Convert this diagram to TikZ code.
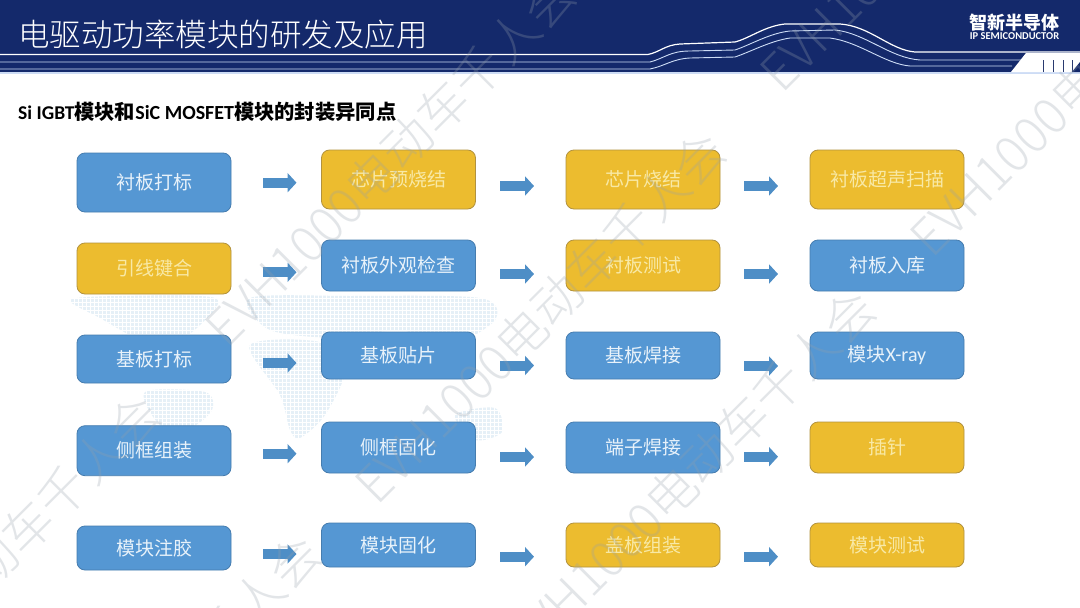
\documentclass[tikz,border=0pt]{standalone}
\usepackage{fontspec}
\setmainfont{Noto Sans CJK SC}
\newfontfamily\latinf{Carlito}
\newfontfamily\lightf{Noto Sans CJK SC Light}
\usetikzlibrary{arrows.meta}
\definecolor{navy}{RGB}{20,41,107}
\definecolor{boxblue}{RGB}{85,151,211}
\definecolor{edgeblue}{RGB}{70,125,175}
\definecolor{boxgold}{RGB}{236,188,47}
\definecolor{edgegold}{RGB}{178,146,62}
\definecolor{txtblue}{RGB}{232,242,250}
\definecolor{txtgold}{RGB}{248,233,166}
\definecolor{arrowblue}{RGB}{78,142,198}
\definecolor{mapblue}{RGB}{230,240,247}
\definecolor{wmgray}{RGB}{150,160,170}
\definecolor{hline}{RGB}{205,220,245}
\tikzset{
  x=1pt,y=-1pt,
  procbox/.style={rounded corners=8pt,minimum width=154pt,inner sep=0pt,outer sep=0pt,font=\fontsize{19}{19}\selectfont,line width=.8pt},
  bluebox/.style={procbox,fill=boxblue,draw=edgeblue,text=txtblue},
  goldbox/.style={procbox,fill=boxgold,draw=edgegold,text=txtgold},
  flow/.style={draw=arrowblue,line width=10pt,-{Triangle[length=9pt,width=19pt,fill=arrowblue]}},
  wm/.style={rotate=45,text=wmgray,text opacity=.27,font=\lightf\fontsize{50}{50}\selectfont,inner sep=0pt},
  hl/.style={draw=hline,line width=.9pt},
  mapshape/.style={fill=mapblue,draw=none},
}
\newcommand{\flow}[6]{\draw[flow] ([shift={(#3,#5)}]#1.east) -- ([shift={(#4,#6)}]#2.west);}
\begin{document}
\begin{tikzpicture}
\useasboundingbox (0,0) rectangle (1080,608);
\fill[white] (0,0) rectangle (1080,608);
% world map
\fill[mapshape] plot[smooth cycle] coordinates {(70,300) (120,296) (215,298) (200,325) (170,345) (140,340) (100,318)};
\fill[mapshape] plot[smooth cycle] coordinates {(145,392) (205,392) (212,410) (190,428) (160,425)};
\fill[mapshape] plot[smooth cycle] coordinates {(250,345) (320,342) (345,370) (325,415) (300,438) (290,430) (280,395)};
\fill[mapshape] plot[smooth cycle] coordinates {(250,298) (350,296) (480,298) (495,320) (450,345) (400,330) (340,338) (270,330)};
\fill[mapshape] plot[smooth cycle] coordinates {(455,415) (495,408) (502,432) (475,440)};
\foreach \gx in {66,70,...,510} \draw[white,line width=.5pt] (\gx,290) -- (\gx,445);
\foreach \gy in {290,294,...,445} \draw[white,line width=.5pt] (66,\gy) -- (510,\gy);
% header
\fill[navy] (0,0) rectangle (1080,73);
\draw[hline,line width=1.2pt] (0,73) -- (1080,73);
\draw[hl,line width=1.2pt,white] (0,54.5) -- (648,54.5) .. controls (660,52) and (665,45) .. (680,44) -- (735,42) .. controls (750,38) and (765,26) .. (785,24) -- (840,24) .. controls (870,26) and (890,50) .. (915,52) -- (1080,52);
\draw[hl] (0,62) -- (650,62) .. controls (665,58) and (670,51) .. (690,51) -- (735,50) .. controls (750,45) and (770,33) .. (790,31) -- (835,30) .. controls (865,33) and (890,58) .. (920,60) -- (1022,60);
\draw[hl] (0,69) -- (650,69) .. controls (665,66) and (672,59) .. (690,58) -- (735,57) .. controls (750,52) and (770,41) .. (790,38) -- (830,38) .. controls (860,42) and (885,64) .. (910,66) -- (1012,66);
\fill[white] (1026,53) -- (1080,53) -- (1080,72) -- (1011,72) -- cycle;
\foreach \tx in {1043,1053,1063,1072} \draw[navy!80!gray,line width=.8pt] (\tx,60) -- (\tx,72);
\fill[navy] (1080,62) -- (1072,72) -- (1080,72) -- cycle;
\node[anchor=west,inner sep=0pt,text=white,font=\lightf\fontsize{31.5}{32}\selectfont] (title) at (18,35) {电驱动功率模块的研发及应用};
\node[inner sep=0pt,text=white,font=\fontsize{18}{18}\selectfont\bfseries] (logo) at (1014.5,23) {智新半导体};
\node[inner sep=0pt,text=white,font=\latinf\fontsize{10.5}{10.5}\selectfont\bfseries] (logosub) at (1014.5,36) {IP SEMICONDUCTOR};
\node[anchor=west,inner sep=0pt,text=black,font=\fontsize{20.3}{20}\selectfont\bfseries] (sub) at (18,112) {{\latinf\fontsize{19.5}{20}\selectfont Si IGBT}模块和{\latinf\fontsize{20}{20}\selectfont SiC MOSFET}模块的封装异同点};
% boxes
\node[bluebox,minimum height=59pt] (a1) at (154,182.5) {衬板打标};
\node[goldbox,minimum height=59pt] (b1) at (398.5,179.5) {芯片预烧结};
\node[goldbox,minimum height=59pt] (c1) at (643,179.5) {芯片烧结};
\node[goldbox,minimum height=59pt] (d1) at (887,179.5) {衬板超声扫描};
\node[goldbox,minimum height=51pt] (a2) at (154,268.5) {引线键合};
\node[bluebox,minimum height=51pt] (b2) at (398.5,265.5) {衬板外观检查};
\node[goldbox,minimum height=51pt] (c2) at (643,265.5) {衬板测试};
\node[bluebox,minimum height=51pt] (d2) at (887,265.5) {衬板入库};
\node[bluebox,minimum height=48pt] (a3) at (154,359) {基板打标};
\node[bluebox,minimum height=47pt] (b3) at (398.5,355.5) {基板贴片};
\node[bluebox,minimum height=47pt] (c3) at (643,355.5) {基板焊接};
\node[bluebox,minimum height=47pt] (d3) at (887,355.5) {模块{\latinf\fontsize{20}{20}\selectfont X-ray}};
\node[bluebox,minimum height=50pt] (a4) at (154,450.7) {侧框组装};
\node[bluebox,minimum height=51pt] (b4) at (398.5,447.5) {侧框固化};
\node[bluebox,minimum height=51pt] (c4) at (643,447.5) {端子焊接};
\node[goldbox,minimum height=51pt] (d4) at (887,447.5) {插针};
\node[bluebox,minimum height=44pt] (a5) at (154,548) {模块注胶};
\node[bluebox,minimum height=44pt] (b5) at (398.5,545) {模块固化};
\node[goldbox,minimum height=44pt] (c5) at (643,545) {盖板组装};
\node[goldbox,minimum height=44pt] (d5) at (887,545) {模块测试};
% connectors
\flow{a1}{b1}{32}{-25}{.2}{3.2}
\flow{b1}{c1}{24.5}{-32}{6.5}{6.5}
\flow{c1}{d1}{24}{-32}{6.5}{6.5}
\flow{a2}{b2}{32}{-25}{3.8}{6.8}
\flow{b2}{c2}{24.5}{-32}{8.5}{8.5}
\flow{c2}{d2}{24}{-32}{8.5}{8.5}
\flow{a3}{b3}{32}{-25}{4}{7.5}
\flow{b3}{c3}{24.5}{-32}{10}{10}
\flow{c3}{d3}{24}{-32}{10.5}{10.5}
\flow{a4}{b4}{32}{-25}{3}{6.2}
\flow{b4}{c4}{24.5}{-32}{9.5}{9.5}
\flow{c4}{d4}{24}{-32}{9.2}{9.2}
\flow{a5}{b5}{32}{-25}{6}{9}
\flow{b5}{c5}{24.5}{-32}{11.7}{11.7}
\flow{c5}{d5}{24}{-32}{11.7}{11.7}
% watermarks
\node[wm] (w1) at (540,317) {EVH1000电动车千人会};
\node[wm] (w2) at (690,475) {EVH1000电动车千人会};
\node[wm] (w3) at (390,160) {EVH1000电动车千人会};
\node[wm] (w4) at (-25,580) {EVH1000电动车千人会};
\node[wm] (w5) at (1095,70) {EVH1000电动车千人会};
\node[wm] (w6) at (945,-95) {EVH1000电动车千人会};
\node[wm] (w7) at (135,720) {EVH1000电动车千人会};
\end{tikzpicture}
\end{document}
